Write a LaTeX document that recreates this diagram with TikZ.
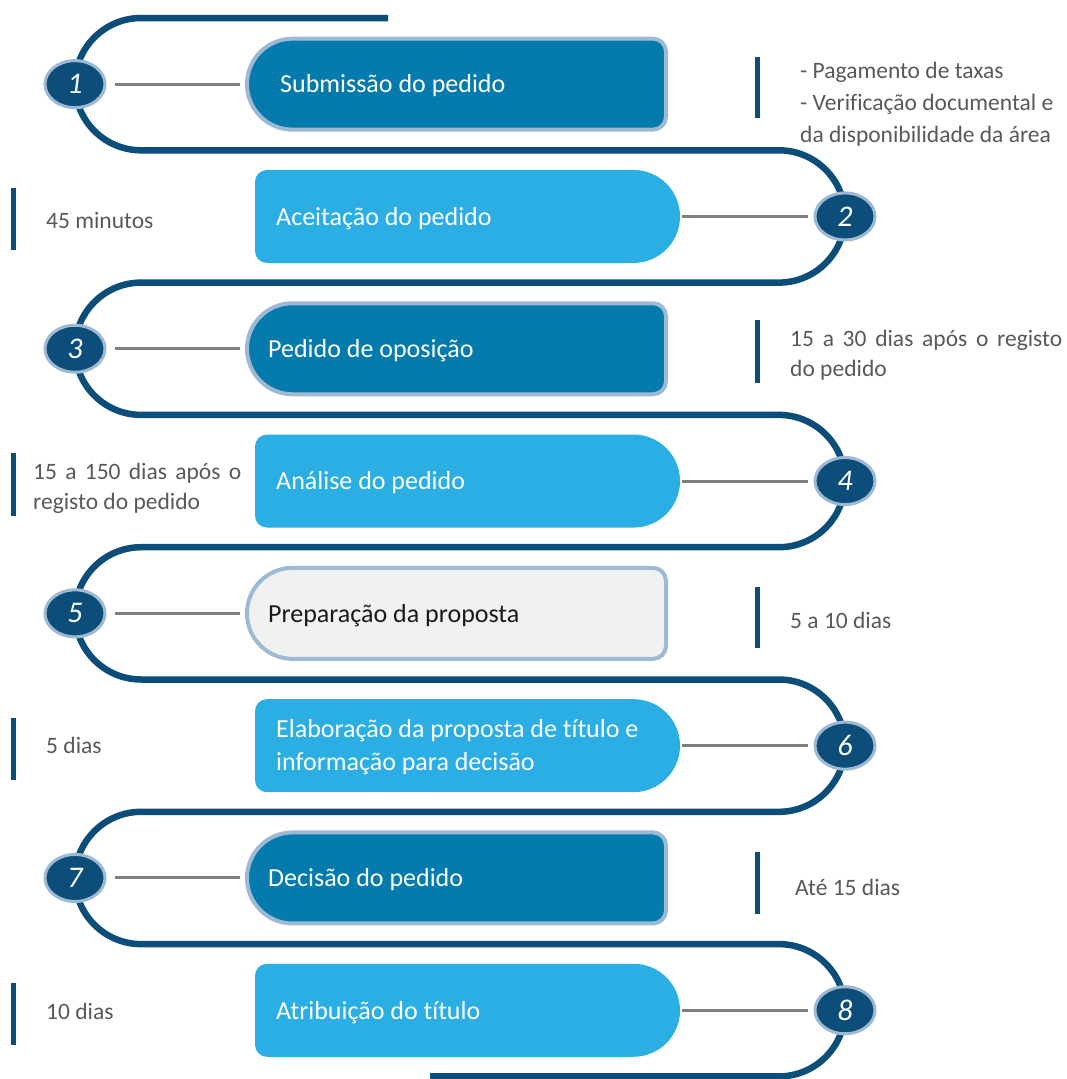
\documentclass[tikz,border=0pt]{standalone}
\usepackage{fontspec}
\setmainfont{Carlito}[Ligatures={NoCommon}]
\usetikzlibrary{shapes.geometric}
\definecolor{navy}{HTML}{0C4D79}
\definecolor{ringc}{HTML}{9DB9D4}
\definecolor{darkbox}{HTML}{047AAD}
\definecolor{lightbox}{HTML}{2AAEE4}
\definecolor{graybox}{HTML}{F0F2F2}
\definecolor{conn}{HTML}{7F7F7F}
\definecolor{note}{HTML}{595959}
\definecolor{darktext}{HTML}{1A1A1A}
\tikzset{
  serp/.style={draw=navy, line width=6.5pt, rounded corners=66.15pt},
  numc/.style={ellipse, minimum width=60pt, minimum height=47pt, inner sep=0pt,
    fill=navy, draw=ringc, line width=3pt, text=white,
    font=\fontsize{30}{30}\selectfont\itshape},
  boxframe/.style={rectangle, inner sep=0pt, outer sep=0pt},
  boxtxt/.style={anchor=base west, inner sep=0pt, text=white,
    font=\fontsize{26}{33}\selectfont},
  notetxt/.style={anchor=base west, inner sep=0pt, text=note,
    font=\fontsize{23.5}{31}\selectfont},
  connline/.style={draw=conn, line width=3pt},
  barline/.style={draw=navy, line width=5pt},
}
\newcommand\oddbox[3]{%
  \node[boxframe, minimum width=419pt, minimum height=91pt] (#1) at (456.5,#2) {};
  \path[draw=ringc, line width=4pt, fill=#3] (#1.north) [rounded corners=13pt]
    -- (#1.north east) -- (#1.south east) -- (#1.south) [rounded corners=45.5pt]
    -- (#1.south west) -- (#1.north west) -- cycle;}
\newcommand\evenbox[2]{%
  \node[boxframe, minimum width=425pt, minimum height=93pt] (#1) at (467.5,#2) {};
  \path[fill=lightbox] (#1.north) [rounded corners=46.5pt]
    -- (#1.north east) -- (#1.south east) -- (#1.south) [rounded corners=12pt]
    -- (#1.south west) -- (#1.north west) -- cycle;}
\begin{document}
\begin{tikzpicture}[x=1pt, y=-1pt]
\useasboundingbox (0,0) rectangle (1066,1079);
\fill[white] (0,0) rectangle (1066,1079);
% serpentine path
\path[serp] (388,18) -- (75,18) -- (75,150.3) -- (845,150.3) -- (845,282.6)
  -- (75,282.6) -- (75,414.9) -- (845,414.9) -- (845,547.2) -- (75,547.2)
  -- (75,679.5) -- (845,679.5) -- (845,811.8) -- (75,811.8) -- (75,944.1)
  -- (845,944.1) -- (845,1076.4) -- (430,1076.4);
% boxes
\oddbox{s1}{84.15}{darkbox}
\evenbox{s2}{216.45}
\oddbox{s3}{348.75}{darkbox}
\evenbox{s4}{481.05}
\oddbox{s5}{613.35}{graybox}
\evenbox{s6}{745.65}
\oddbox{s7}{877.95}{darkbox}
\evenbox{s8}{1010.25}
% box texts
\node[boxtxt] (t1) at (280,92.9) {Submissão do pedido};
\node[boxtxt] (t2) at (276,225.2) {Aceitação do pedido};
\node[boxtxt] (t3) at (268,357.5) {Pedido de oposição};
\node[boxtxt] (t4) at (276,489.8) {Análise do pedido};
\node[boxtxt, text=darktext] (t5) at (268,622.1) {Preparação da proposta};
\node[boxtxt] (t6) at (276,737.8) {\begin{tabular}[t]{@{}l@{}}Elaboração da proposta de título e\\informação para decisão\end{tabular}};
\node[boxtxt] (t7) at (268,886.7) {Decisão do pedido};
\node[boxtxt] (t8) at (276,1019) {Atribuição do título};
% number ellipses
\node[numc] (c1) at (75,84.15) {1};
\node[numc] (c2) at (845,216.45) {2};
\node[numc] (c3) at (75,348.75) {3};
\node[numc] (c4) at (845,481.05) {4};
\node[numc] (c5) at (75,613.35) {5};
\node[numc] (c6) at (845,745.65) {6};
\node[numc] (c7) at (75,877.95) {7};
\node[numc] (c8) at (845,1010.25) {8};
% connectors
\draw[connline, shorten <=8pt, shorten >=7pt] (c1) -- (s1);
\draw[connline, shorten <=2pt, shorten >=5.5pt] (s2) -- (c2);
\draw[connline, shorten <=8pt, shorten >=7pt] (c3) -- (s3);
\draw[connline, shorten <=2pt, shorten >=5.5pt] (s4) -- (c4);
\draw[connline, shorten <=8pt, shorten >=7pt] (c5) -- (s5);
\draw[connline, shorten <=2pt, shorten >=5.5pt] (s6) -- (c6);
\draw[connline, shorten <=8pt, shorten >=7pt] (c7) -- (s7);
\draw[connline, shorten <=2pt, shorten >=5.5pt] (s8) -- (c8);
% side bars
\draw[barline] (757,57) -- (757,118);
\draw[barline] (13,188) -- (13,250);
\draw[barline] (757,320) -- (757,383);
\draw[barline] (13,453) -- (13,516);
\draw[barline] (757,587) -- (757,648);
\draw[barline] (13,718) -- (13,780);
\draw[barline] (757,852) -- (757,914);
\draw[barline] (13,983) -- (13,1045);
% notes
\node[notetxt] (n1) at (800,78) {\fontsize{23.5}{32}\selectfont\begin{tabular}[t]{@{}l@{}}- Pagamento de taxas\\- Verificação documental e\\da disponibilidade da área\end{tabular}};
\node[notetxt] (n2) at (46,228.5) {45 minutos};
\node[notetxt] (n3) at (790,346) {\fontsize{23.5}{30.5}\selectfont\begin{tabular}[t]{@{}l@{}}\makebox[272pt][s]{15 a 30 dias após o registo}\\do pedido\end{tabular}};
\node[notetxt] (n4) at (33,479) {\fontsize{23.5}{30.5}\selectfont\begin{tabular}[t]{@{}l@{}}\makebox[208pt][s]{15 a 150 dias após o}\\registo do pedido\end{tabular}};
\node[notetxt] (n5) at (790,628.5) {5 a 10 dias};
\node[notetxt] (n6) at (46,753.5) {5 dias};
\node[notetxt] (n7) at (795,895.5) {Até 15 dias};
\node[notetxt] (n8) at (46,1019.5) {10 dias};
\end{tikzpicture}
\end{document}
